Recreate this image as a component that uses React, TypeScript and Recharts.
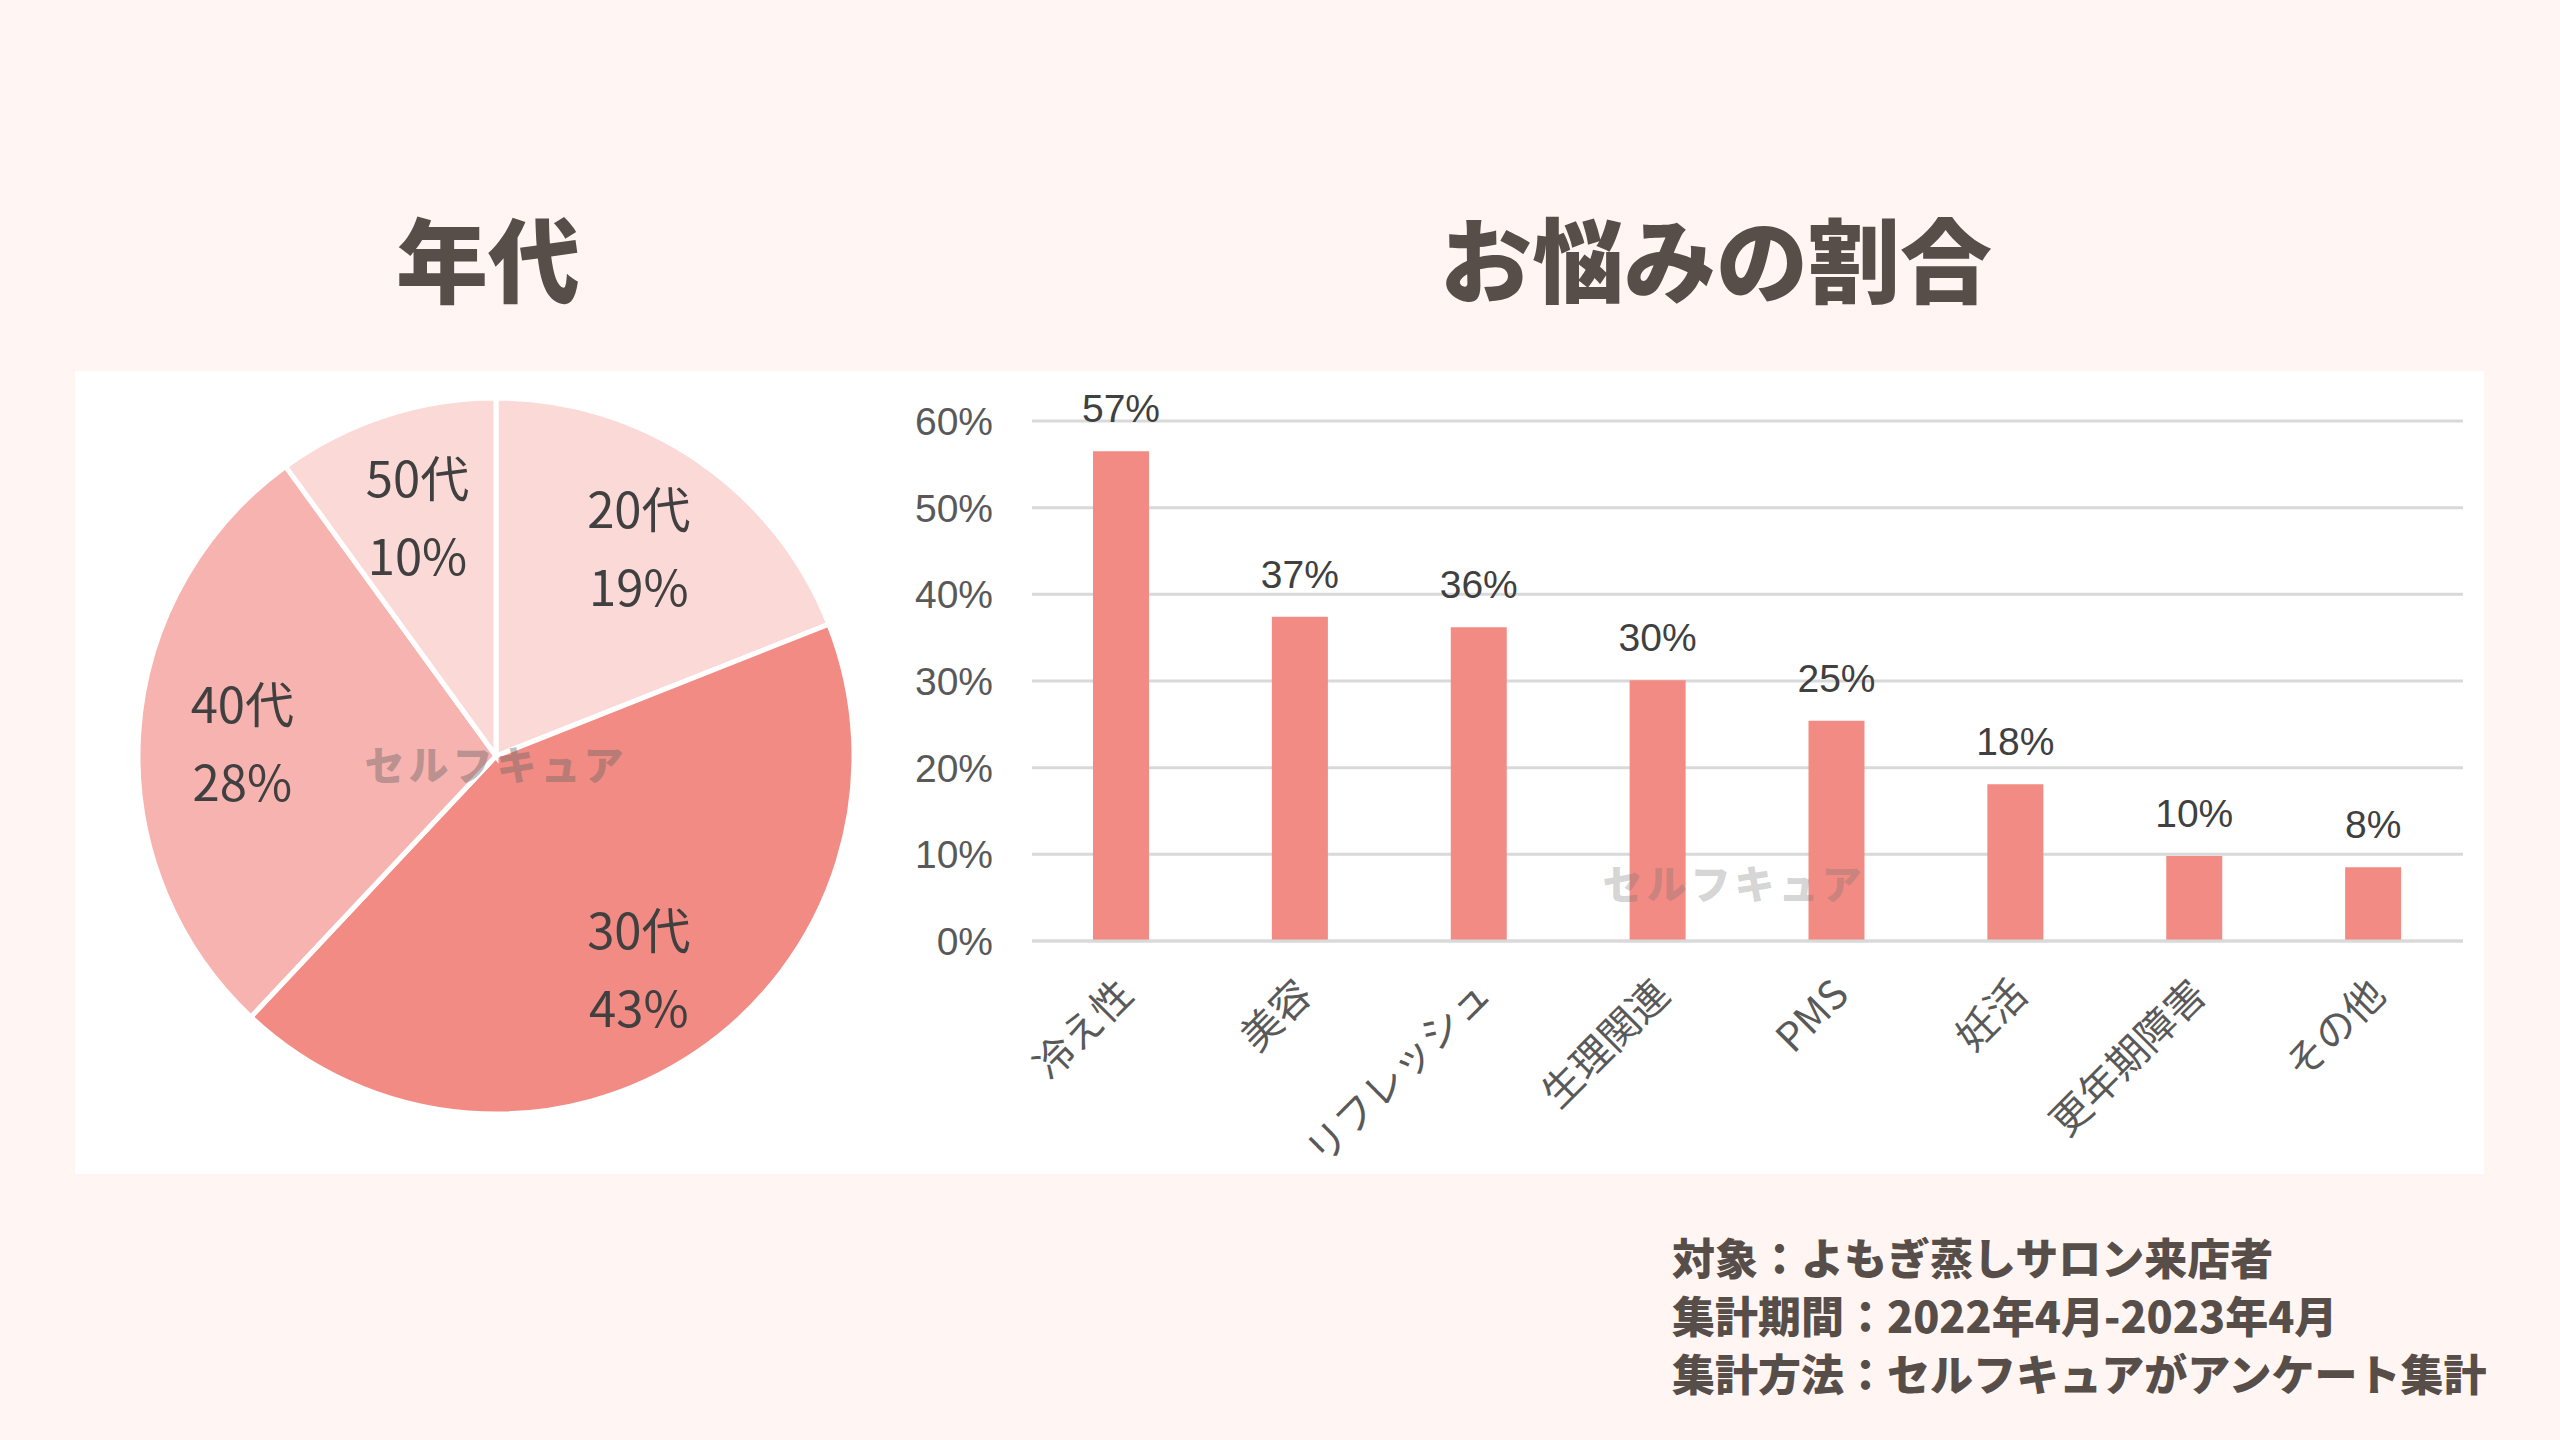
import React from 'react';
import { PieChart, Pie, Cell, BarChart, Bar, XAxis, YAxis, CartesianGrid, LabelList } from 'recharts';

const ageCategories = ['20代', '30代', '40代', '50代'];
const ageValues = [19, 43, 28, 10];
const ageColors = ['#FBD9D7', '#F28B83', '#F7B3AF', '#FBD9D7'];

const concernCategories = ['冷え性', '美容', 'リフレッシュ', '生理関連', 'PMS', '妊活', '更年期障害', 'その他'];
const concernValues = [56.5, 37.4, 36.2, 30.1, 25.4, 18.1, 9.8, 8.5];
const concernLabels = ['57%', '37%', '36%', '30%', '25%', '18%', '10%', '8%'];
const yTicks = [0, 10, 20, 30, 40, 50, 60];

const titleAge = '年代';
const titleConcern = 'お悩みの割合';
const watermark = 'セルフキュア';
const footLines = [
  '対象：よもぎ蒸しサロン来店者',
  '集計期間：2022年4月-2023年4月',
  '集計方法：セルフキュアがアンケート集計',
];

const pieData = ageCategories.map((name, i) => ({ name, value: ageValues[i] }));
const barData = concernCategories.map((name, i) => ({ name, value: concernValues[i], label: concernLabels[i] }));

const JP = '"Noto Sans CJK JP", "Noto Sans", sans-serif';
const ARIAL = '"Liberation Sans", Arial, sans-serif';
const DARK = '#574E49';
const RAD = Math.PI / 180;

const PieLabel = (props: any) => {
  const { cx, cy, midAngle, outerRadius, name, value } = props;
  const r = outerRadius * 0.71;
  const x = cx + r * Math.cos(-midAngle * RAD);
  const y = cy + r * Math.sin(-midAngle * RAD);
  return (
    <text x={x} y={y} textAnchor="middle" fill="#404040" fontSize={49} fontFamily={JP}>
      <tspan x={x} y={y - 39} dominantBaseline="central">{name}</tspan>
      <tspan x={x} y={y + 39} dominantBaseline="central">{`${value}%`}</tspan>
    </text>
  );
};

const XTick = (props: any) => {
  const { x, y, payload } = props;
  return (
    <g transform={`translate(${x + 14},${y + 48})`}>
      <text textAnchor="end" transform="rotate(-45)" fontSize={40} fill="#595959" fontFamily={JP}>
        {payload.value}
      </text>
    </g>
  );
};

const BarTopLabel = (props: any) => {
  const { x, y, width, index } = props;
  return (
    <text x={x + width / 2} y={y - 29} textAnchor="middle" fontSize={39} fill="#404040" fontFamily={ARIAL}>
      {barData[index].label}
    </text>
  );
};

export default function App() {
  return (
    <div style={{ position: 'absolute', left: 0, top: 0, width: 2560, height: 1440, background: '#FFF6F3', overflow: 'hidden' }}>
      <div style={{ position: 'absolute', left: 488, top: 256, transform: 'translate(-50%,-50%)', fontFamily: JP, fontWeight: 900, fontSize: 92, color: DARK, whiteSpace: 'nowrap', lineHeight: 1 }}>
        {titleAge}
      </div>
      <div style={{ position: 'absolute', left: 1716, top: 256, transform: 'translate(-50%,-50%)', fontFamily: JP, fontWeight: 900, fontSize: 92, color: DARK, whiteSpace: 'nowrap', lineHeight: 1 }}>
        {titleConcern}
      </div>

      <div style={{ position: 'absolute', left: 75, top: 371, width: 2409, height: 803, background: '#FFFFFF' }} />

      <div style={{ position: 'absolute', left: 75, top: 371 }}>
        <PieChart width={860} height={803}>
          <Pie
            data={pieData}
            dataKey="value"
            nameKey="name"
            cx={416}
            cy={380}
            outerRadius={358}
            startAngle={90}
            endAngle={-270}
            stroke="#FFFFFF"
            strokeWidth={5}
            label={PieLabel}
            labelLine={false}
            isAnimationActive={false}
          >
            {pieData.map((d, i) => (
              <Cell key={d.name} fill={ageColors[i]} />
            ))}
          </Pie>
        </PieChart>
      </div>

      <div style={{ position: 'absolute', left: 900, top: 371 }}>
        <BarChart width={1584} height={803} data={barData} margin={{ top: 50, right: 21, bottom: 0, left: 0 }}>
          <CartesianGrid vertical={false} stroke="#D9D9D9" strokeWidth={3} />
          <XAxis
            dataKey="name"
            interval={0}
            height={233}
            axisLine={{ stroke: '#D9D9D9', strokeWidth: 3 }}
            tickLine={false}
            tick={<XTick />}
          />
          <YAxis
            width={132}
            domain={[0, 60]}
            ticks={yTicks}
            axisLine={false}
            tickLine={false}
            tickMargin={33}
            tickFormatter={(v: number) => `${v}%`}
            tick={{ fontSize: 39, fill: '#595959', fontFamily: ARIAL }}
          />
          <Bar dataKey="value" fill="#F28B83" barSize={56} isAnimationActive={false}>
            <LabelList dataKey="label" content={BarTopLabel} />
          </Bar>
        </BarChart>
      </div>

      <div style={{ position: 'absolute', left: 496, top: 763, transform: 'translate(-50%,-50%)', fontFamily: JP, fontWeight: 900, fontSize: 40, letterSpacing: 4, color: 'rgba(100,100,100,0.42)', whiteSpace: 'nowrap', pointerEvents: 'none', lineHeight: 1 }}>
        {watermark}
      </div>
      <div style={{ position: 'absolute', left: 1734, top: 882, transform: 'translate(-50%,-50%)', fontFamily: JP, fontWeight: 900, fontSize: 40, letterSpacing: 4, color: 'rgba(110,110,110,0.3)', whiteSpace: 'nowrap', pointerEvents: 'none', lineHeight: 1 }}>
        {watermark}
      </div>

      {footLines.map((t, i) => (
        <div key={t} style={{ position: 'absolute', left: 1672, top: 1256 + i * 58, transform: 'translateY(-50%)', fontFamily: JP, fontWeight: 900, fontSize: 43, color: DARK, whiteSpace: 'nowrap', lineHeight: 1 }}>
          {t}
        </div>
      ))}
    </div>
  );
}
